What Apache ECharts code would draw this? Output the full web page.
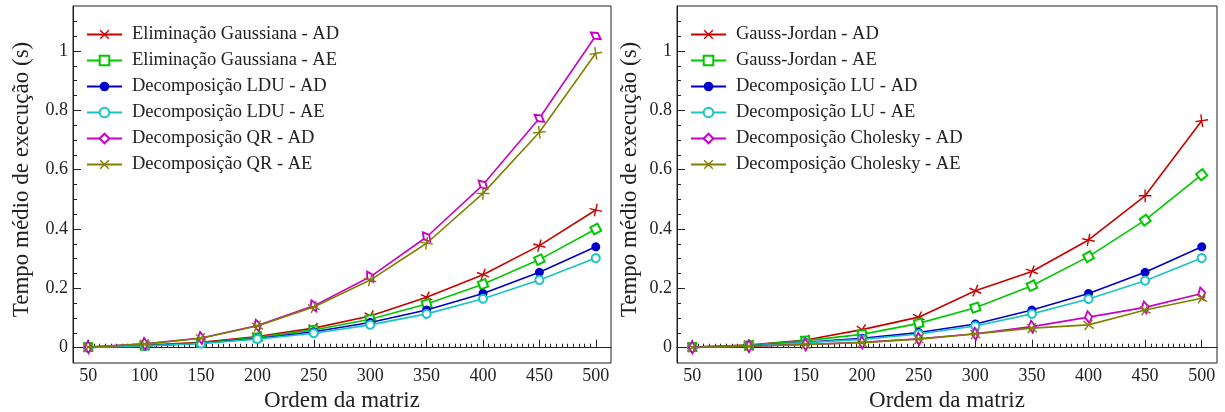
<!DOCTYPE html>
<html><head><meta charset="utf-8">
<script src="https://cdn.jsdelivr.net/npm/echarts@6/dist/echarts.min.js"></script>
<style>html,body{margin:0;padding:0;background:#fff}#c{width:1225px;height:412px}</style>
</head><body><div id="c"></div>
<script>
// ---------- data ----------
const matrixSizes = [50, 100, 150, 200, 250, 300, 350, 400, 450, 500];
const xTickLabels = [50, 100, 150, 200, 250, 300, 350, 400, 450, 500];
const yTickLabels = [0, 0.2, 0.4, 0.6, 0.8, 1];

const leftNames = ['Eliminação Gaussiana - AD', 'Eliminação Gaussiana - AE', 'Decomposição LDU - AD',
  'Decomposição LDU - AE', 'Decomposição QR - AD', 'Decomposição QR - AE'];
const rightNames = ['Gauss-Jordan - AD', 'Gauss-Jordan - AE', 'Decomposição LU - AD',
  'Decomposição LU - AE', 'Decomposição Cholesky - AD', 'Decomposição Cholesky - AE'];

const gaussElimAD = [0.002, 0.008, 0.018, 0.038, 0.066, 0.107, 0.170, 0.246, 0.344, 0.464];
const gaussElimAE = [0.002, 0.007, 0.016, 0.035, 0.060, 0.096, 0.147, 0.214, 0.297, 0.400];
const lduAD       = [0.001, 0.006, 0.015, 0.031, 0.054, 0.085, 0.127, 0.183, 0.254, 0.340];
const lduAE       = [0.001, 0.006, 0.014, 0.029, 0.049, 0.077, 0.114, 0.165, 0.228, 0.302];
const qrAD        = [0.002, 0.013, 0.033, 0.075, 0.141, 0.239, 0.373, 0.549, 0.773, 1.051];
const qrAE        = [0.002, 0.012, 0.032, 0.073, 0.137, 0.228, 0.352, 0.520, 0.726, 0.992];

const gaussJordanAD = [0.002, 0.009, 0.026, 0.061, 0.103, 0.192, 0.257, 0.363, 0.512, 0.765];
const gaussJordanAE = [0.002, 0.008, 0.024, 0.045, 0.082, 0.135, 0.209, 0.307, 0.430, 0.583];
const luAD          = [0.001, 0.006, 0.018, 0.032, 0.051, 0.080, 0.127, 0.183, 0.254, 0.340];
const luAE          = [0.001, 0.006, 0.017, 0.028, 0.046, 0.073, 0.114, 0.164, 0.226, 0.302];
const choleskyAD    = [0.001, 0.005, 0.011, 0.018, 0.030, 0.047, 0.071, 0.103, 0.136, 0.183];
const choleskyAE    = [0.001, 0.005, 0.011, 0.017, 0.029, 0.046, 0.066, 0.077, 0.127, 0.167];

const leftValues = [gaussElimAD, gaussElimAE, lduAD, lduAE, qrAD, qrAE];
const rightValues = [gaussJordanAD, gaussJordanAE, luAD, luAE, choleskyAD, choleskyAE];

// ---------- style ----------
const FONT = 'Liberation Serif';
const INK = '#222';
const CROSS = 'path://M0,1L1,0L5,4L9,0L10,1L6,5L10,9L9,10L5,6L1,10L0,9L4,5Z';
const styles = [
  { color: '#c80000', symbol: CROSS, size: 10, bw: 0 },
  { color: '#00c800', symbol: 'emptyRect', size: 8, bw: 1.5 },
  { color: '#0000c8', symbol: 'circle', size: 9, bw: 0 },
  { color: '#18c4c4', symbol: 'emptyCircle', size: 8, bw: 1.5 },
  { color: '#c800c8', symbol: 'emptyDiamond', size: [7, 12], bw: 1.5 },
  { color: '#808000', symbol: CROSS, size: 10, bw: 0 }
];

const xMin = 36.5, xMax = 513.5, yMin = -0.0515, yMax = 1.1515;
const xMinor = [], yMinor = [];
for (let v = 55; v < 500; v += 5) xMinor.push(v);
for (let k = 1; k <= 22; k++) yMinor.push(Math.round(k * 5) / 100);

function majorX(grid) {
  return {
    type: 'value', gridIndex: grid, min: xMin, max: xMax, position: 'bottom',
    name: 'Ordem da matriz', nameLocation: 'middle', nameGap: 18,
    nameTextStyle: { fontFamily: FONT, fontSize: 23, color: INK },
    axisLine: { show: true, lineStyle: { color: INK, width: 1 } },
    axisTick: { show: true, inside: true, length: 8, customValues: xTickLabels, lineStyle: { color: INK } },
    axisLabel: { show: true, customValues: xTickLabels, margin: 4, fontFamily: FONT, fontSize: 18, color: INK },
    splitLine: { show: false }
  };
}
function minorX(grid) {
  return {
    type: 'value', gridIndex: grid, min: xMin, max: xMax, position: 'bottom',
    axisLine: { show: false },
    axisTick: { show: true, inside: true, length: 4, customValues: xMinor, lineStyle: { color: INK } },
    axisLabel: { show: false }, splitLine: { show: false }
  };
}
function majorY(grid, gap) {
  return {
    type: 'value', gridIndex: grid, min: yMin, max: yMax, position: 'left',
    name: 'Tempo médio de execução (s)', nameLocation: 'middle', nameGap: gap,
    nameTextStyle: { fontFamily: FONT, fontSize: 23, color: INK, padding: [0, 0, 0, 10] },
    axisLine: { show: true, lineStyle: { color: INK, width: 1 } },
    axisTick: { show: true, inside: true, length: 8, customValues: yTickLabels, lineStyle: { color: INK } },
    axisLabel: { show: true, customValues: yTickLabels, margin: 5, fontFamily: FONT, fontSize: 18, color: INK },
    splitLine: { show: false }
  };
}
function minorY(grid) {
  return {
    type: 'value', gridIndex: grid, min: yMin, max: yMax, position: 'left',
    axisLine: { show: false },
    axisTick: { show: true, inside: true, length: 4, customValues: yMinor, lineStyle: { color: INK } },
    axisLabel: { show: false }, splitLine: { show: false }
  };
}

function buildSeries(names, values, xi, yi) {
  return names.map((n, i) => ({
    type: 'line', name: n, xAxisIndex: xi, yAxisIndex: yi,
    data: matrixSizes.map((x, k) => [x, values[i][k]]),
    symbol: styles[i].symbol, symbolSize: styles[i].size, showAllSymbol: true,
    lineStyle: { color: styles[i].color, width: 1.6 },
    itemStyle: { color: styles[i].color, borderColor: styles[i].color, borderWidth: styles[i].bw },
    emphasis: { disabled: true }, z: 2 + i
  }));
}

function legend(names, left) {
  return {
    data: names, orient: 'vertical', left: left, top: 20,
    itemWidth: 35, itemHeight: 12, itemGap: 7, selectedMode: false,
    textStyle: { fontFamily: FONT, fontSize: 18.5, color: INK, lineHeight: 18, padding: [0, 0, 0, 5] }
  };
}

const chart = echarts.init(document.getElementById('c'), null, { renderer: 'canvas' });
const option = {
  animation: false, backgroundColor: '#fff',
  grid: [
    { left: 73, top: 6, width: 538, height: 357, show: true, borderColor: INK, borderWidth: 1,
      containLabel: false, outerBoundsMode: 'none' },
    { left: 677, top: 6, width: 540, height: 357, show: true, borderColor: INK, borderWidth: 1,
      containLabel: false, outerBoundsMode: 'none' }
  ],
  xAxis: [majorX(0), minorX(0), majorX(1), minorX(1)],
  yAxis: [majorY(0, 40), minorY(0), majorY(1, 36), minorY(1)],
  legend: [legend(leftNames, 81), legend(rightNames, 685)],
  series: buildSeries(leftNames, leftValues, 0, 0).concat(buildSeries(rightNames, rightValues, 2, 2))
};
chart.setOption(option);

// rotate markers along the line direction (like SVG orient="auto" markers)
const rotated = option.series.map(s => {
  const pts = s.data.map(d => chart.convertToPixel({ xAxisIndex: s.xAxisIndex, yAxisIndex: s.yAxisIndex }, d));
  return {
    data: s.data.map((d, i) => {
      let a;
      const dir = (p, q) => Math.atan2(q[1] - p[1], q[0] - p[0]);
      if (i === 0) a = dir(pts[0], pts[1]);
      else if (i === pts.length - 1) a = dir(pts[i - 1], pts[i]);
      else {
        const a1 = dir(pts[i - 1], pts[i]), a2 = dir(pts[i], pts[i + 1]);
        a = Math.atan2(Math.sin(a1) + Math.sin(a2), Math.cos(a1) + Math.cos(a2));
      }
      return { value: d, symbolRotate: -a * 180 / Math.PI };
    })
  };
});
chart.setOption({ series: rotated });
</script></body></html>
